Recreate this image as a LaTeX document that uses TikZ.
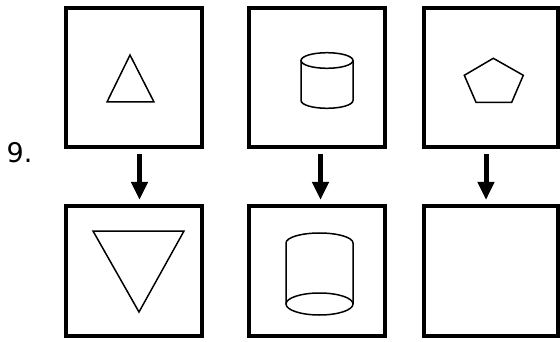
\documentclass[tikz,border=0pt]{standalone}
\usepackage{fontspec}
\setmainfont{DejaVu Sans}
\usetikzlibrary{arrows.meta}

\begin{document}
\begin{tikzpicture}[x=1pt, y=-1pt,
    frame/.style={line width=4pt, line join=miter},
    figure/.style={line width=1.5pt, line join=miter},
    downarrow/.style={line width=5pt, -{Triangle[length=18pt, width=16pt]}}]
    \useasboundingbox (0,0) rectangle (560,342);

    % frames, upper and lower row
    \foreach \l/\r in {66/202, 249/385, 424/558}{
        \draw[frame] (\l,8) rectangle (\r,147);
        \draw[frame] (\l,206) rectangle (\r,336);
    }

    % arrow ends
    \coordinate (A1) at (139.5,154);
    \coordinate (B1) at (139.5,200);
    \coordinate (A2) at (320.5,154);
    \coordinate (B2) at (320.5,200);
    \coordinate (A3) at (486,154);
    \coordinate (B3) at (486,200);

    \foreach \n in {1,2,3}
    \draw[downarrow] (A\n) -- (B\n);

    % triangles
    \draw[figure] (130,55) -- (107,102) -- (154,102) -- cycle;
    \draw[figure] (93,231) -- (184,231) -- (139,312) -- cycle;

    % small cylinder
    \draw[figure] (327,60.5) ellipse [x radius=26pt, y radius=7.8pt];
    \draw[figure] (301,60.5) -- (301,100.5)
        arc[start angle=180, end angle=360, x radius=26pt, y radius=7.8pt]
        -- (353,60.5);

    % large cylinder, seen from below
    \draw[figure] (319.5,304) ellipse [x radius=33.5pt, y radius=11pt];
    \draw[figure] (286,304) -- (286,243)
        arc[start angle=180, end angle=0, x radius=33.5pt, y radius=10pt]
        -- (353,304);

    % pentagon
    \draw[figure] (493.3,58.3) -- (523.3,75.3) -- (511.7,102.3)
        -- (476,102.3) -- (464.3,75.3) -- cycle;

    \node[anchor=base west, inner sep=0pt, font=\fontsize{27}{30}\selectfont]
        (num) at (6.5,163) {9.};
\end{tikzpicture}
\end{document}
